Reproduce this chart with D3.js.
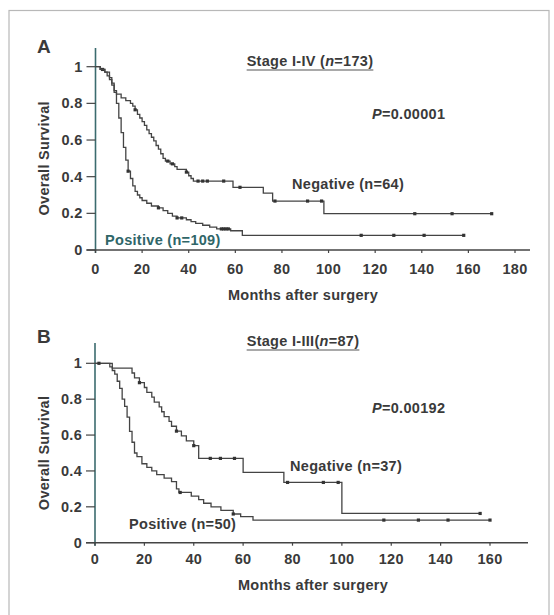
<!DOCTYPE html>
<html>
<head>
<meta charset="utf-8">
<script src="https://cdn.jsdelivr.net/npm/d3@7"></script>
<style>
  body { margin: 0; background: #fff; }
  svg text { font-family: "Liberation Sans", Arial, sans-serif; font-weight: bold; fill: #3a3a3a; letter-spacing: 0.3px; }
</style>
</head>
<body>
<svg id="chart" width="554" height="615"></svg>
<script>
// ---------- DATA ----------
// steps: [month, survival after the drop]
const aNegSteps = [[0,1],[2,0.985],[4,0.97],[6,0.94],[7,0.91],[8,0.87],[9,0.85],[11,0.83],[13,0.815],[15,0.8],
  [16,0.785],[17,0.765],[18,0.74],[19,0.72],[20,0.7],[21,0.68],[22,0.655],[23,0.635],[24,0.615],[25,0.595],
  [26,0.57],[27,0.55],[28,0.525],[29,0.5],[30,0.485],[32,0.47],[34,0.455],[35,0.44],[39,0.425],[40,0.405],
  [41,0.39],[42,0.376],[59,0.342],[72,0.31],[76,0.267],[98,0.198]];
const aNegCensor = [3, 17, 31, 33, 39, 44, 46, 48, 55, 62, 77, 91, 97, 137, 153, 170];

const aPosSteps = [[0,1],[2,0.985],[4,0.97],[5,0.95],[6,0.93],[7,0.9],[8,0.86],[9,0.8],[10,0.72],[11,0.64],
  [12,0.56],[13,0.49],[14,0.43],[15,0.39],[16,0.35],[17,0.32],[18,0.3],[19,0.285],[20,0.27],[22,0.255],
  [24,0.24],[27,0.23],[29,0.215],[31,0.2],[33,0.185],[35,0.175],[39,0.165],[41,0.155],[43,0.145],[46,0.135],
  [49,0.125],[52,0.115],[58,0.105],[63,0.08]];
const aPosCensor = [14, 27, 35, 37, 54, 55, 56, 57, 114, 128, 141, 158];

const bNegSteps = [[0,1],[7,0.973],[15,0.946],[16,0.919],[18,0.892],[20,0.865],[21,0.838],[23,0.811],
  [24,0.784],[26,0.757],[27,0.73],[28,0.703],[30,0.676],[31,0.649],[33,0.622],[35,0.595],[37,0.568],
  [40,0.541],[42,0.47],[60,0.392],[76.5,0.336],[100,0.163]];
const bNegCensor = [18, 33, 40, 46.7, 50.8, 56.5, 78, 92.5, 98.5, 156];

const bPosSteps = [[0,1],[6,0.98],[7,0.96],[8,0.94],[9,0.9],[10,0.86],[11,0.8],[12,0.76],[13,0.7],[14,0.62],
  [15,0.56],[16,0.5],[17,0.48],[19,0.44],[21,0.42],[23,0.4],[25,0.38],[28,0.36],[31,0.34],[33,0.3],
  [34,0.28],[39,0.26],[42,0.24],[44,0.22],[47,0.2],[51,0.18],[56,0.16],[59,0.145],[64,0.126]];
const bPosCensor = [1.6, 34.5, 56, 117, 131, 143, 160];

const yTicks = [0, 0.2, 0.4, 0.6, 0.8, 1];
const xTicksA = [0, 20, 40, 60, 80, 100, 120, 140, 160, 180];
const xTicksB = [0, 20, 40, 60, 80, 100, 120, 140, 160];

const labelsA = { letter: "A", title: "Stage I-IV (", n: "173", p: "0.00001", neg: "Negative (n=64)", pos: "Positive (n=109)" };
const labelsB = { letter: "B", title: "Stage I-III(", n: "87", p: "0.00192", neg: "Negative (n=37)", pos: "Positive (n=50)" };

// ---------- DRAWING ----------
const svg = d3.select("#chart");
const ink = "#444";
const axisCol = "#3b6b6e";
const fs = 14.5;

svg.append("rect")
  .attr("x", 9).attr("y", 10.5).attr("width", 540).attr("height", 620)
  .attr("fill", "none").attr("stroke", "#b8b8b8").attr("stroke-width", 1.2);

function survAt(steps, t) {
  let s = 1;
  for (const d of steps) if (d[0] <= t) s = d[1];
  return s;
}

function panel(o) {
  const g = svg.append("g");
  const x = d3.scaleLinear().domain([0, o.xMax]).range([o.left, o.right]);
  const y = d3.scaleLinear().domain([0, 1]).range([o.bottom, o.top]);

  // y axis
  g.append("line").attr("x1", x(0)).attr("x2", x(0)).attr("y1", o.axisTop).attr("y2", y(0) + 3)
    .attr("stroke", axisCol).attr("stroke-width", 1.6);
  g.selectAll(".yt").data(yTicks).join("line")
    .attr("x1", x(0) - 9).attr("x2", x(0)).attr("y1", d => y(d)).attr("y2", d => y(d))
    .attr("stroke", ink).attr("stroke-width", 1.2);
  g.selectAll(".yl").data(yTicks).join("text")
    .attr("x", x(0) - 13).attr("y", d => y(d) + 5)
    .attr("text-anchor", "end").attr("font-size", fs)
    .text(d => d === 0 || d === 1 ? d : d.toFixed(1));

  // x axis
  g.append("line").attr("x1", x(0) - 9).attr("x2", o.axisRight).attr("y1", y(0)).attr("y2", y(0))
    .attr("stroke", ink).attr("stroke-width", 1.4);
  g.selectAll(".xt").data(o.xTicks).join("line")
    .attr("x1", d => x(d)).attr("x2", d => x(d)).attr("y1", y(0)).attr("y2", y(0) + 3)
    .attr("stroke", ink).attr("stroke-width", 1.2);
  g.selectAll(".xl").data(o.xTicks).join("text")
    .attr("x", d => x(d)).attr("y", y(0) + o.tickDy)
    .attr("text-anchor", "middle").attr("font-size", fs)
    .text(d => d);

  g.append("text").attr("x", o.xLabelX).attr("y", o.xLabelY)
    .attr("text-anchor", "middle").attr("font-size", fs).text("Months after surgery");
  g.append("text")
    .attr("transform", `translate(49,${(y(0) + y(1)) / 2}) rotate(-90)`)
    .attr("text-anchor", "middle").attr("font-size", fs)
    .style("font-weight", "600").text("Overall Survival");

  // panel letter + title
  g.append("text").attr("x", 37).attr("y", o.letterY).attr("font-size", 19).text(o.lab.letter);
  const t = g.append("text").attr("x", o.titleX).attr("y", o.titleY)
    .attr("text-anchor", "middle").attr("font-size", fs);
  t.append("tspan").text(o.lab.title);
  t.append("tspan").attr("font-style", "italic").text("n");
  t.append("tspan").text("=" + o.lab.n + ")");
  const tw = t.node().getComputedTextLength();
  g.append("line").attr("x1", o.titleX - tw / 2).attr("x2", o.titleX + tw / 2)
    .attr("y1", o.titleY + 4).attr("y2", o.titleY + 4)
    .attr("stroke", "#555").attr("stroke-width", 1.2);

  const pt = g.append("text").attr("x", 372).attr("y", o.pY).attr("font-size", fs);
  pt.append("tspan").attr("font-style", "italic").text("P");
  pt.append("tspan").text("=" + o.lab.p);

  g.append("text").attr("x", o.negX).attr("y", o.negY).attr("font-size", fs).text(o.lab.neg);
  g.append("text").attr("x", o.posX).attr("y", o.posY).attr("font-size", fs)
    .style("fill", o.posCol).text(o.lab.pos);

  // curves
  const line = d3.line().curve(d3.curveStepAfter).x(d => x(d[0])).y(d => y(d[1]));
  o.curves.forEach(c => {
    const last = d3.max(c.censor);
    const pts = c.steps.concat([[last, c.steps[c.steps.length - 1][1]]]);
    g.append("path").datum(pts).attr("d", line)
      .attr("fill", "none").attr("stroke", ink).attr("stroke-width", 1.3);
    g.selectAll(null).data(c.censor).join("rect")
      .attr("x", d => x(d) - 1.6).attr("y", d => y(survAt(c.steps, d)) - 1.6)
      .attr("width", 3.2).attr("height", 3.2).attr("fill", "#333");
  });
}

panel({
  lab: labelsA, xMax: 180, xTicks: xTicksA,
  left: 95.5, right: 515, top: 66.7, bottom: 250, axisTop: 48, axisRight: 530, tickDy: 24,
  xLabelX: 303, xLabelY: 300, letterY: 53, titleX: 310, titleY: 66, pY: 119,
  negX: 292, negY: 189, posX: 105, posY: 245, posCol: "#2f6668",
  curves: [{ steps: aNegSteps, censor: aNegCensor }, { steps: aPosSteps, censor: aPosCensor }]
});

panel({
  lab: labelsB, xMax: 160, xTicks: xTicksB,
  left: 95, right: 490, top: 363.3, bottom: 542.7, axisTop: 343, axisRight: 528, tickDy: 21,
  xLabelX: 313, xLabelY: 590, letterY: 343, titleX: 303, titleY: 346, pY: 413,
  negX: 290, negY: 471, posX: 129, posY: 529, posCol: "#3a3a3a",
  curves: [{ steps: bNegSteps, censor: bNegCensor }, { steps: bPosSteps, censor: bPosCensor }]
});
</script>
</body>
</html>
